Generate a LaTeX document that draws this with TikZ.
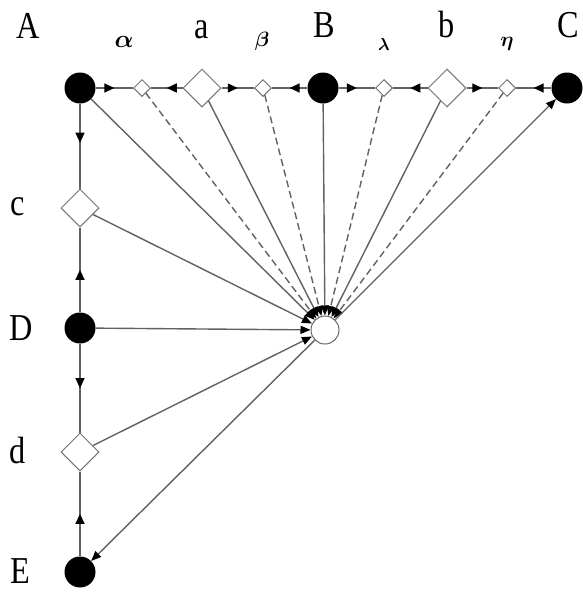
\documentclass[tikz,border=0pt]{standalone}
\usepackage{bm}
\usepackage{fontspec}
\setmainfont{Liberation Serif}
\usetikzlibrary{arrows.meta,shapes.geometric,decorations.markings}
\begin{document}
\begin{tikzpicture}[x=1pt,y=-1pt,
  dot/.style={circle, fill=black, minimum size=31pt, inner sep=0pt},
  bigdia/.style={diamond, draw=black!55, line width=1pt, fill=white, minimum size=38pt, inner sep=0pt},
  smalldia/.style={diamond, draw=black!55, line width=1pt, fill=white, minimum size=17pt, inner sep=0pt},
  hubnode/.style={circle, draw=black!60, line width=1pt, fill=white, minimum size=28pt, inner sep=0pt},
  link/.style={draw=black!62, line width=1.4pt},
  midarrow/.style={link, postaction={decorate}, decoration={markings,
      mark=at position #1 with {\arrow{Triangle[length=10pt,width=9pt,black]}}}},
  midarrow/.default=0.5,
  feed/.style={link, -{Triangle[length=10pt,width=8pt,black]}},
  dfeed/.style={feed, dash pattern=on 7pt off 4pt},
  biglbl/.style={anchor=base, inner sep=0pt, font=\fontsize{38}{38}\selectfont},
  gklbl/.style={anchor=base, inner sep=0pt, font=\fontsize{#1}{#1}\selectfont},
]
\useasboundingbox (0,0) rectangle (582,592);

% top row
\node[dot] (A) at (80,88) {};
\node[smalldia] (al) at (142,88) {};
\node[bigdia] (a) at (202,88) {};
\node[smalldia] (be) at (263,88) {};
\node[dot] (B) at (323,88) {};
\node[smalldia] (la) at (384,88) {};
\node[bigdia] (b) at (447,88) {};
\node[smalldia] (et) at (507,88) {};
\node[dot] (C) at (567,88) {};

% left column
\node[bigdia] (c) at (80,208) {};
\node[dot] (D) at (80,328) {};
\node[bigdia] (d) at (80,452) {};
\node[dot] (E) at (80,572) {};

% central hub
\node[hubnode] (hub) at (325,330) {};

% labels
\node[biglbl] (tA) at (28,38) {\scalebox{0.85}[1]{A}};
\node[biglbl] (ta) at (202,38) {\scalebox{0.85}[1]{a}};
\node[biglbl] (tB) at (324,37) {\scalebox{0.85}[1]{B}};
\node[biglbl] (tb) at (447,37) {\scalebox{0.85}[1]{b}};
\node[biglbl] (tC) at (568,37) {\scalebox{0.85}[1]{C}};
\node[biglbl] (tc) at (18,215) {\scalebox{0.85}[1]{c}};
\node[biglbl] (tD) at (21,340) {\scalebox{0.85}[1]{D}};
\node[biglbl] (td) at (18,463) {\scalebox{0.85}[1]{d}};
\node[biglbl] (tE) at (20,583) {\scalebox{0.85}[1]{E}};
\node[gklbl=28] (tal) at (124,47) {$\bm{\alpha}$};
\node[gklbl=20] (tbe) at (262,46) {$\bm{\beta}$};
\node[gklbl=17] (tla) at (384,50) {$\bm{\lambda}$};
\node[gklbl=20] (tet) at (507,46) {$\bm{\eta}$};

% top row connectors
\draw[midarrow] (A) -- (al);
\draw[midarrow] (a) -- (al);
\draw[midarrow] (a) -- (be);
\draw[midarrow] (B) -- (be);
\draw[midarrow] (B) -- (la);
\draw[midarrow] (b) -- (la);
\draw[midarrow] (b) -- (et);
\draw[midarrow] (C) -- (et);

% left column connectors
\draw[midarrow=0.46] (A) -- (c);
\draw[midarrow] (D) -- (c);
\draw[midarrow] (D) -- (d);
\draw[midarrow] (E) -- (d);

% links into the hub
\foreach \s in {A,a,B,b,c,D,d}
  \draw[feed] (\s) -- (hub);
\foreach \s in {al,be,la,et}
  \draw[dfeed] (\s) -- (hub);

% links out of the hub
\draw[feed] (hub) -- (C);
\draw[feed] (hub) -- (E);
\end{tikzpicture}
\end{document}
